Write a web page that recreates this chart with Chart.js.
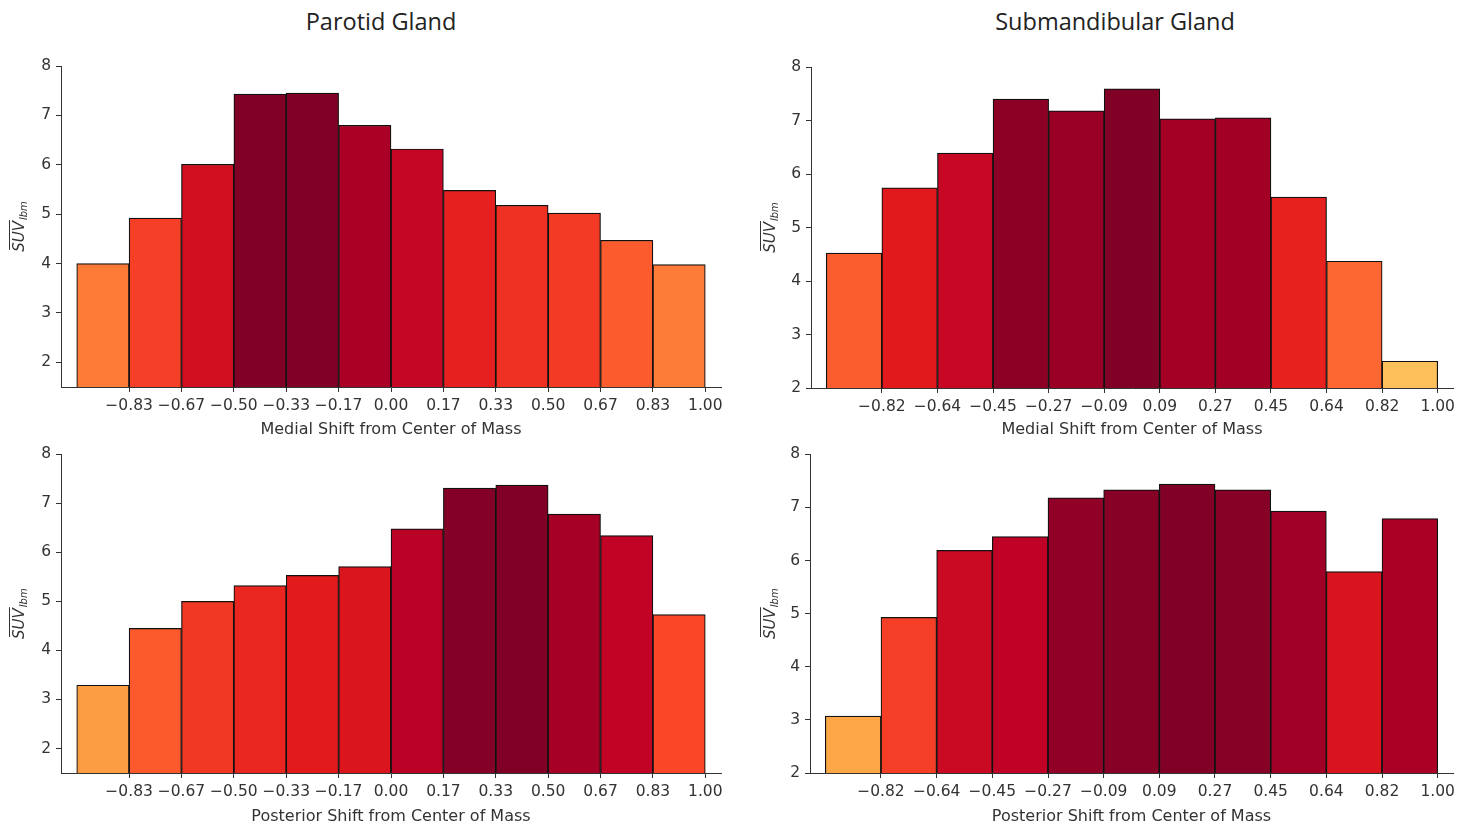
<!DOCTYPE html>
<html>
<head>
<meta charset="utf-8">
<script src="https://cdn.jsdelivr.net/npm/chart.js@4.4.1/dist/chart.umd.min.js"></script>
<style>
    body { margin: 0; background: #fff; width: 1472px; height: 827px; position: relative; overflow: hidden; }
    .panel { position: absolute; }
    .title { position: absolute; top: 5px; font-family: "Open Sans", sans-serif; font-size: 23.5px; color: #222; text-align: center; width: 400px; }
</style>
</head>
<body>
<div class="title" style="left:181px;">Parotid Gland</div>
<div class="title" style="left:915px;">Submandibular Gland</div>
<div class="panel" style="left:0;top:40px;width:736px;height:400px;"><canvas id="parMedial"></canvas></div>
<div class="panel" style="left:736px;top:40px;width:736px;height:400px;"><canvas id="subMedial"></canvas></div>
<div class="panel" style="left:0;top:440px;width:736px;height:387px;"><canvas id="parPosterior"></canvas></div>
<div class="panel" style="left:736px;top:440px;width:736px;height:387px;"><canvas id="subPosterior"></canvas></div>
<script>
// bin edges (12 bins for parotid, 11 bins for submandibular)
const parotidEdges = [-1, -0.8333, -0.6667, -0.5, -0.3333, -0.1667, 0, 0.1667, 0.3333, 0.5, 0.6667, 0.8333, 1];
const parotidTickLabels = ['−0.83', '−0.67', '−0.50', '−0.33', '−0.17', '0.00', '0.17', '0.33', '0.50', '0.67', '0.83', '1.00'];
const subEdges = [-1, -0.8182, -0.6364, -0.4545, -0.2727, -0.0909, 0.0909, 0.2727, 0.4545, 0.6364, 0.8182, 1];
const subTickLabels = ['−0.82', '−0.64', '−0.45', '−0.27', '−0.09', '0.09', '0.27', '0.45', '0.64', '0.82', '1.00'];

const parotidMedial = [4.00, 4.92, 6.01, 7.43, 7.45, 6.80, 6.32, 5.48, 5.18, 5.02, 4.47, 3.98];
const subMedial = [4.52, 5.74, 6.39, 7.40, 7.18, 7.59, 7.03, 7.05, 5.57, 4.37, 2.50];
const parotidPosterior = [3.29, 4.45, 5.00, 5.32, 5.53, 5.71, 6.48, 7.31, 7.37, 6.78, 6.34, 4.73];
const subPosterior = [3.07, 4.93, 6.19, 6.45, 7.18, 7.33, 7.44, 7.33, 6.93, 5.79, 6.79];

const yTicks = [2, 3, 4, 5, 6, 7, 8];

// YlOrRd colour map
const ylOrRd = ['#ffffcc', '#ffeda0', '#fed976', '#feb24c', '#fd8d3c', '#fc4e2a', '#e31a1c', '#bd0026', '#800026'];
function hexRgb(h) {
    return [parseInt(h.slice(1, 3), 16), parseInt(h.slice(3, 5), 16), parseInt(h.slice(5, 7), 16)];
}
function cmap(t) {
    t = Math.max(0, Math.min(1, t));
    let pos = t * (ylOrRd.length - 1);
    let i = Math.min(Math.floor(pos), ylOrRd.length - 2);
    let f = pos - i;
    let a = hexRgb(ylOrRd[i]), b = hexRgb(ylOrRd[i + 1]);
    let c = a.map((v, k) => Math.round(v + (b[k] - v) * f));
    return `rgb(${c[0]},${c[1]},${c[2]})`;
}

const tickFont = { family: 'DejaVu Sans', size: 15.5 };
const tickColor = '#333';

// y label: SUV with overline and subscript lbm
const yLabelPlugin = {
    id: 'yLabel',
    afterDraw(chart) {
        const ctx = chart.ctx;
        const area = chart.chartArea;
        const x = chart.options.plugins.yLabel.x;
        const y = (area.top + area.bottom) / 2;
        ctx.save();
        ctx.translate(x, y);
        ctx.rotate(-Math.PI / 2);
        ctx.fillStyle = tickColor;
        ctx.strokeStyle = tickColor;
        ctx.textBaseline = 'alphabetic';
        ctx.font = 'italic 15px "DejaVu Sans"';
        const mw = ctx.measureText('SUV').width;
        ctx.font = 'italic 10px "DejaVu Sans"';
        const sw = ctx.measureText('lbm').width;
        let sx = -(mw + sw + 1) / 2;
        ctx.font = 'italic 15px "DejaVu Sans"';
        ctx.fillText('SUV', sx, 5);
        ctx.lineWidth = 1;
        ctx.beginPath();
        ctx.moveTo(sx + 2, -9.5);
        ctx.lineTo(sx + mw + 1, -9.5);
        ctx.stroke();
        ctx.font = 'italic 10px "DejaVu Sans"';
        ctx.fillText('lbm', sx + mw + 1, 8);
        ctx.restore();
    }
};

function makeHist(id, edges, tickLabels, values, yMin, xTitle, yWidth, xHeight, padTop, padRight, labelX, titlePad) {
    const maxVal = Math.max(...values);
    const points = values.map((v, i) => ({ x: (edges[i] + edges[i + 1]) / 2, y: v }));
    const tickValues = edges.slice(1);
    return new Chart(document.getElementById(id), {
        type: 'bar',
        data: {
            datasets: [{
                data: points,
                backgroundColor: values.map(v => cmap(v / maxVal)),
                borderColor: '#111',
                borderWidth: 1.2,
                borderSkipped: false,
                barPercentage: 1,
                categoryPercentage: 1
            }]
        },
        options: {
            responsive: true,
            maintainAspectRatio: false,
            animation: false,
            layout: { padding: { top: padTop, right: padRight, left: 0, bottom: 0 } },
            plugins: {
                legend: { display: false },
                tooltip: { enabled: false },
                yLabel: { x: labelX }
            },
            scales: {
                x: {
                    type: 'linear',
                    min: -1.05,
                    max: 1.05,
                    offset: false,
                    afterBuildTicks: scale => {
                        scale.ticks = tickValues.map(v => ({ value: v }));
                    },
                    afterFit: scale => { scale.height = xHeight; },
                    grid: { offset: false, drawOnChartArea: false, drawTicks: true, tickLength: 5, tickColor: '#333' },
                    border: { display: true, color: '#333', width: 1 },
                    ticks: {
                        autoSkip: false,
                        maxRotation: 0,
                        padding: 5,
                        color: tickColor,
                        font: tickFont,
                        callback: (val, idx) => tickLabels[idx]
                    },
                    title: {
                        display: true,
                        text: xTitle,
                        color: tickColor,
                        font: { family: 'DejaVu Sans', size: 16 },
                        padding: { top: 0, bottom: titlePad }
                    }
                },
                y: {
                    min: yMin,
                    max: 8,
                    afterBuildTicks: scale => {
                        scale.ticks = yTicks.map(v => ({ value: v }));
                    },
                    afterFit: scale => { scale.width = yWidth; },
                    grid: { drawOnChartArea: false, drawTicks: true, tickLength: 5, tickColor: '#333' },
                    border: { display: true, color: '#333', width: 1 },
                    ticks: { padding: 5, color: tickColor, font: tickFont }
                }
            }
        },
        plugins: [yLabelPlugin]
    });
}

makeHist('parMedial', parotidEdges, parotidTickLabels, parotidMedial, 1.5, 'Medial Shift from Center of Mass', 61, 53, 26, 15, 19, 1);
makeHist('subMedial', subEdges, subTickLabels, subMedial, 2, 'Medial Shift from Center of Mass', 75, 52, 27, 19, 34, 1);
makeHist('parPosterior', parotidEdges, parotidTickLabels, parotidPosterior, 1.5, 'Posterior Shift from Center of Mass', 61, 54, 13, 15, 19, 1);
makeHist('subPosterior', subEdges, subTickLabels, subPosterior, 2, 'Posterior Shift from Center of Mass', 74, 54, 12, 19, 34, 1);
</script>
</body>
</html>
